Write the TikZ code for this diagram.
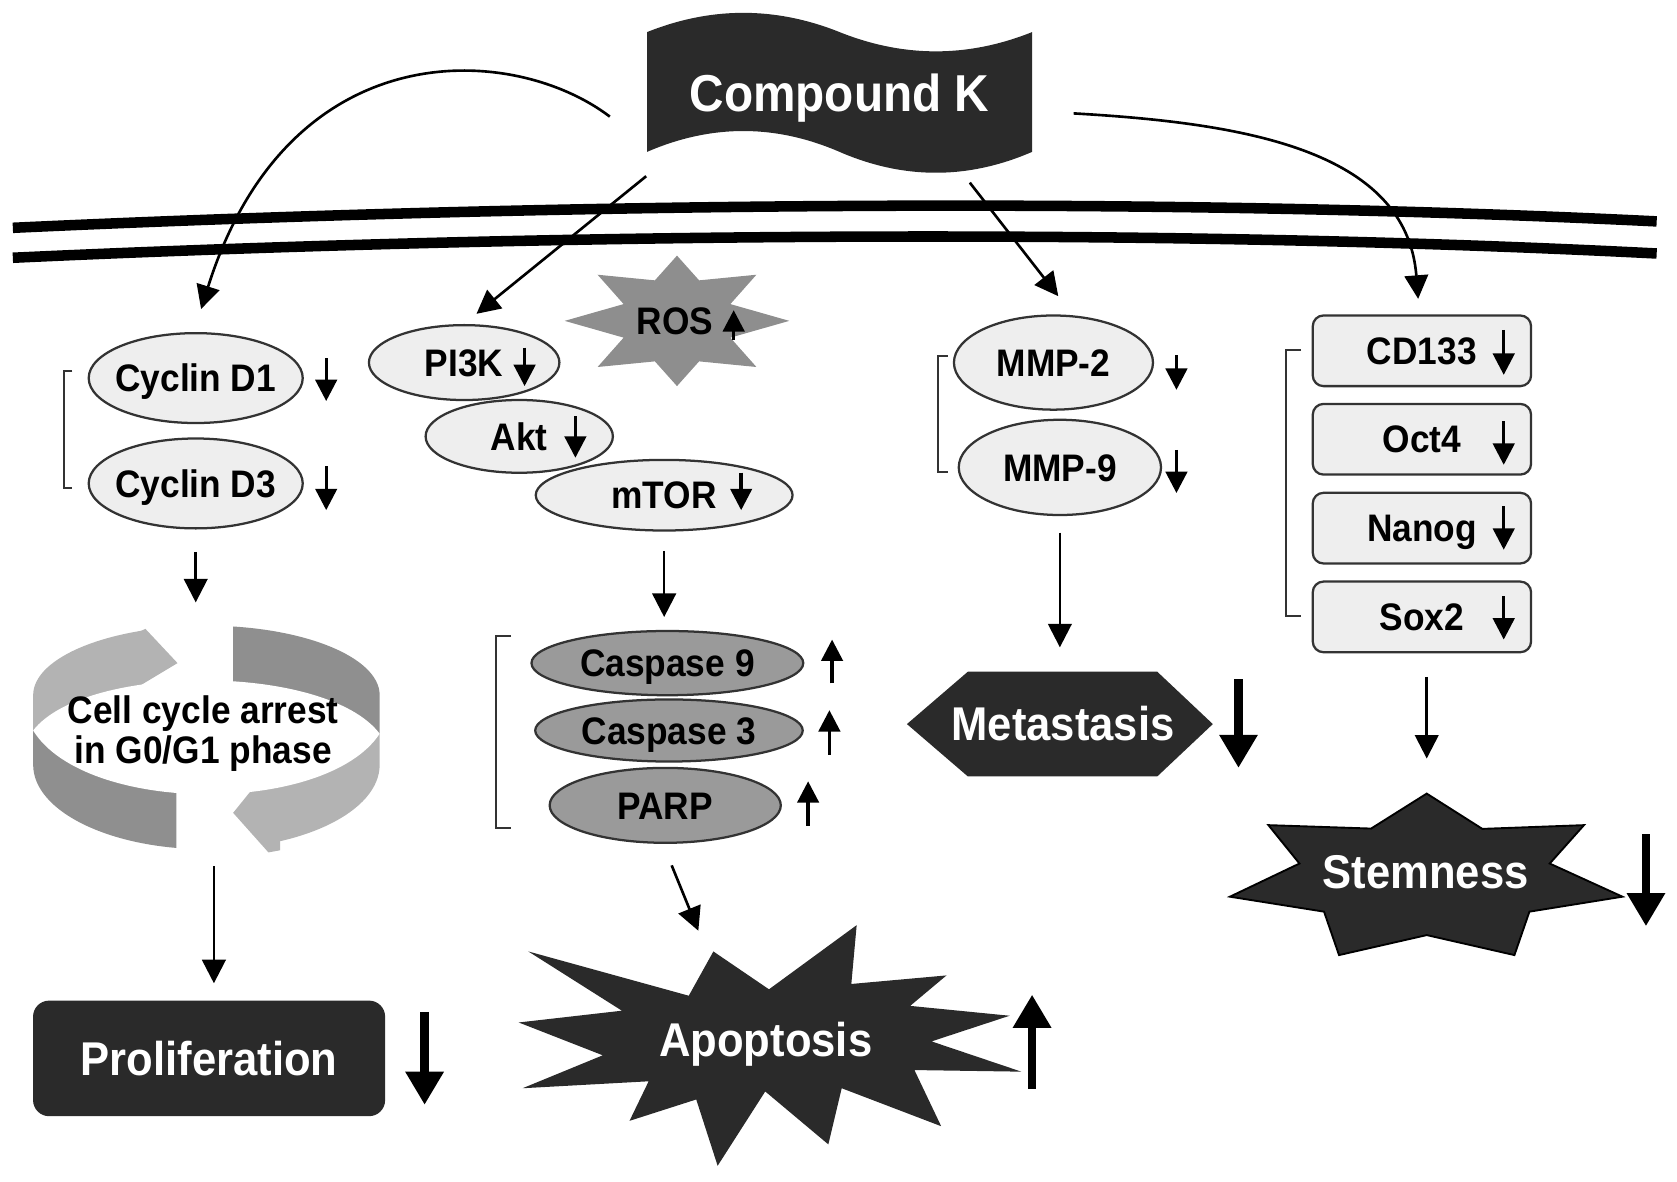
\documentclass[tikz,border=0pt]{standalone}
\usepackage{fontspec}
\setmainfont{Liberation Sans}[FakeStretch=0.92]
\usetikzlibrary{arrows.meta,shapes.geometric}
\definecolor{inkdark}{HTML}{2A2A2A}
\definecolor{protfill}{HTML}{EEEEEE}
\definecolor{caspfill}{HTML}{9A9A9A}
\definecolor{rosfill}{HTML}{8E8E8E}
\definecolor{ringlight}{HTML}{B3B3B3}
\definecolor{ringdark}{HTML}{8F8F8F}
\begin{document}
\begin{tikzpicture}[x=0.01cm, y=-0.01cm,
	lbl/.style = {font=\bfseries\fontsize{10.2}{10.6}\selectfont, text height=7.3pt, text depth=0pt, inner sep=0pt},
	prot/.style = {lbl, shape=ellipse, draw=black!80, line width=0.6pt, fill=protfill},
	casp/.style = {prot, fill=caspfill},
	mbox/.style = {lbl, shape=rectangle, rounded corners=0.1cm, draw=black!80, line width=0.6pt, fill=protfill,
		minimum width=2.04cm, minimum height=0.66cm},
	res/.style = {font=\bfseries\fontsize{12.6}{14}\selectfont, text=white, text height=9pt, text depth=0pt, inner sep=0pt},
	conn/.style = {line width=0.7pt, -{Triangle[width=0.22cm,length=0.22cm]}},
	ind/.style = {line width=0.9pt, -{Triangle[width=0.2cm,length=0.2cm]}},
	bigarrow/.style = {line width=2.2pt, -{Triangle[width=0.34cm,length=0.31cm]}},
	brk/.style = {line width=0.5pt, draw=black!80},
	membrane/.style = {line width=2.8pt}]

	\useasboundingbox (0,0) rectangle (1568,1105);

	% membrane
	\draw[membrane] (12,213) .. controls (400,195) and (1000,180) .. (1549,207);
	\draw[membrane] (12,241) .. controls (400,223) and (1000,209) .. (1549,237);

	% flag, star, ring, bursts
	\fill[inkdark] (605,30) .. controls (665,6) and (725,6) .. (785,30) .. controls (845,54) and (905,54) .. (965,30)
		-- (965,142) .. controls (905,168) and (845,168) .. (785,142) .. controls (725,116) and (665,116) .. (605,142) -- cycle;
	\fill[rosfill, shift={(633,300)}] (0:105 and 61)
		\foreach \a in {0,45,...,315} { -- (\a:105 and 61) -- (\a+22.5:54 and 41) } -- cycle;
	\foreach \cx/\cy/\cw/\ch/\col in {0/560/132/123/ringlight, 0/683/165/140/ringdark,
		218/560/182/126/ringdark, 250/686/150/134/ringlight} {
		\begin{scope}
			\clip (\cx,\cy) rectangle ++(\cw,\ch);
			\fill[fill=\col] (31,715) -- (31,650) .. controls (31,614) and (104,585) .. (193,585)
				.. controls (282,585) and (355,614) .. (355,650) -- (355,715)
				.. controls (355,759) and (282,794) .. (193,794) .. controls (104,794) and (31,759) .. (31,715) -- cycle;
		\end{scope}
	}
	\fill[ringlight] (115,597) -- (136,588) -- (166,620) -- (121,647) -- (115,647) -- cycle;
	\fill[ringlight] (262,729) -- (243,729) -- (218,760) -- (251,797) -- (262,795) -- cycle;
	\fill[white] (31,683) .. controls (80,620) and (305,620) .. (355,686) .. controls (305,762) and (80,762) .. (31,683) -- cycle;
	\fill[inkdark] (485,956) -- (581.5,945) -- (494,889.6) -- (644,931) -- (667,889.6) -- (719,925) -- (801,865)
		-- (796,920) -- (885,912) -- (851,940.5) -- (944,949.7) -- (871,973.7) -- (955,1002) -- (855,1000.5)
		-- (880,1053) -- (787,1017.5) -- (774.5,1070) -- (715.5,1020.5) -- (671,1090) -- (651,1028)
		-- (588.6,1048) -- (606.5,1011) -- (488.6,1017.5) -- (563.6,986.7) -- cycle;
	\fill[inkdark] (848,677) -- (905,628) -- (1082,628) -- (1134,677) -- (1082,726) -- (905,726) -- cycle;
	\filldraw[fill=inkdark, draw=black, line width=0.5pt] (1334,742) -- (1386,775) -- (1481,771.5) -- (1449,807.4)
		-- (1517,838.4) -- (1430,852.4) -- (1416,893) -- (1334,874.3) -- (1252,893) -- (1238,852.4)
		-- (1150,838.4) -- (1215,807.4) -- (1186,771.5) -- (1282,774.7) -- cycle;

	% nodes
	\node[res, font=\bfseries\fontsize{13.8}{15}\selectfont, text height=9.9pt,
		minimum width=3.6cm, minimum height=1.12cm] (ck) at (785,87) {Compound K};
	\node[prot, inner xsep=-0.1cm, minimum width=2cm, minimum height=0.84cm] (cd1) at (183,353.5) {Cyclin D1};
	\node[prot, inner xsep=-0.1cm, minimum width=2cm, minimum height=0.84cm] (cd3) at (183,452) {Cyclin D3};
	\node[font=\bfseries\fontsize{10.2}{10.6}\selectfont, align=center, inner sep=0pt,
		minimum width=3.24cm, minimum height=2.32cm] (ring) at (190,686) {Cell cycle arrest\\in G0/G1 phase};
	\node[res, shape=rectangle, rounded corners=0.15cm, fill=inkdark,
		minimum width=3.29cm, minimum height=1.08cm] (prolif) at (195.5,989.6) {Proliferation};
	\node[prot, minimum width=1.78cm, minimum height=0.7cm] (pi3k) at (434,339) {PI3K};
	\node[prot, minimum width=2.4cm, minimum height=0.66cm] (mtor) at (621,463) {mTOR};
	\node[prot, minimum width=1.75cm, minimum height=0.68cm] (akt) at (485.5,408) {Akt};
	\node[lbl] (ros) at (631,300) {ROS};
	\node[casp, minimum width=2.54cm, minimum height=0.6cm] (casp9) at (624,620) {Caspase 9};
	\node[casp, minimum width=2.5cm, minimum height=0.58cm] (casp3) at (625.5,683) {Caspase 3};
	\node[casp, minimum width=2.16cm, minimum height=0.7cm] (parp) at (622,753) {PARP};
	\node[res, minimum width=4.7cm, minimum height=2.02cm] (apo) at (716,972) {Apoptosis};
	\node[prot, minimum width=1.86cm, minimum height=0.88cm] (mmp2) at (985,339) {MMP-2};
	\node[prot, minimum width=1.89cm, minimum height=0.89cm] (mmp9) at (991,437) {MMP-9};
	\node[res, minimum width=2.87cm, minimum height=0.98cm] (meta) at (994,677) {Metastasis};
	\node[mbox] (cd133) at (1329.5,328) {CD133};
	\node[mbox] (oct4) at (1329.5,410.7) {Oct4};
	\node[mbox] (nanog) at (1329.5,493.8) {Nanog};
	\node[mbox] (sox2) at (1329.5,576.8) {Sox2};
	\node[res, minimum width=3.67cm, minimum height=1.46cm] (stem) at (1333,815) {Stemness};

	% connectors
	\draw[conn] ([xshift=-0.34cm,yshift=-0.22cm]ck.west) .. controls +(-91,-69) and +(82,-260) .. ([xshift=0.05cm,yshift=0.215cm]cd1.north);
	\draw[conn] ([yshift=-0.21cm]ck.south west) -- ([xshift=0.115cm,yshift=0.095cm]pi3k.north);
	\draw[conn] ([xshift=-0.59cm,yshift=-0.27cm]ck.south east) -- ([xshift=0.045cm,yshift=0.17cm]mmp2.north);
	\draw[conn] ([xshift=0.38cm,yshift=-0.19cm]ck.east) .. controls +(157,9) and +(-11,-140) .. ([xshift=-0.035cm,yshift=0.145cm]cd133.north);
	\draw[conn, shorten <=0.21cm, shorten >=0.06cm] (cd3.south) -- (cd3.south |- ring.north);
	\draw[conn, shorten <=0.07cm, shorten >=0.155cm] ([xshift=0.1cm]ring.south) -- ([xshift=0.1cm]ring.south |- prolif.north);
	\draw[conn, shorten <=0.18cm, shorten >=0.12cm] (mtor.south) -- (mtor.south |- casp9.north);
	\draw[conn] ([xshift=0.06cm,yshift=-0.2cm]parp.south) -- ([xshift=-0.63cm]apo.north);
	\draw[conn, shorten <=0.155cm, shorten >=0.22cm] (mmp9.south) -- (mmp9.south |- meta.north);
	\draw[conn, shorten <=0.22cm, shorten >=0.32cm] ([xshift=0.045cm]sox2.south) -- ([xshift=0.045cm]sox2.south |- stem.north);

	% up and down marks
	\foreach \x/\ya/\yb in {305/335/375, 305/436/477, 490.5/325/361, 538/389/428, 693/442/477,
		1100/332/364.5, 1100/420.6/461, 1406/308.4/350.5, 1406/394/434.6, 1406/473.5/514, 1406/557.6/598,
		686/318/290, 778/639/598, 775.5/705.5/664, 755.6/772/730.5}
		\draw[ind] (\x,\ya) -- (\x,\yb);
	\foreach \x/\ya/\yb in {397/946/1033, 1158/635/718, 965/1018/930, 1539/780/866}
		\draw[bigarrow] (\x,\ya) -- (\x,\yb);

	% brackets
	\foreach \xa/\xb/\ya/\yb in {67.6/60/347/456, 478/464/595/774, 886/877/333/441.7, 1216.5/1202.5/327/576}
		\draw[brk] (\xa,\ya) -- (\xb,\ya) -- (\xb,\yb) -- (\xa,\yb);
\end{tikzpicture}
\end{document}
